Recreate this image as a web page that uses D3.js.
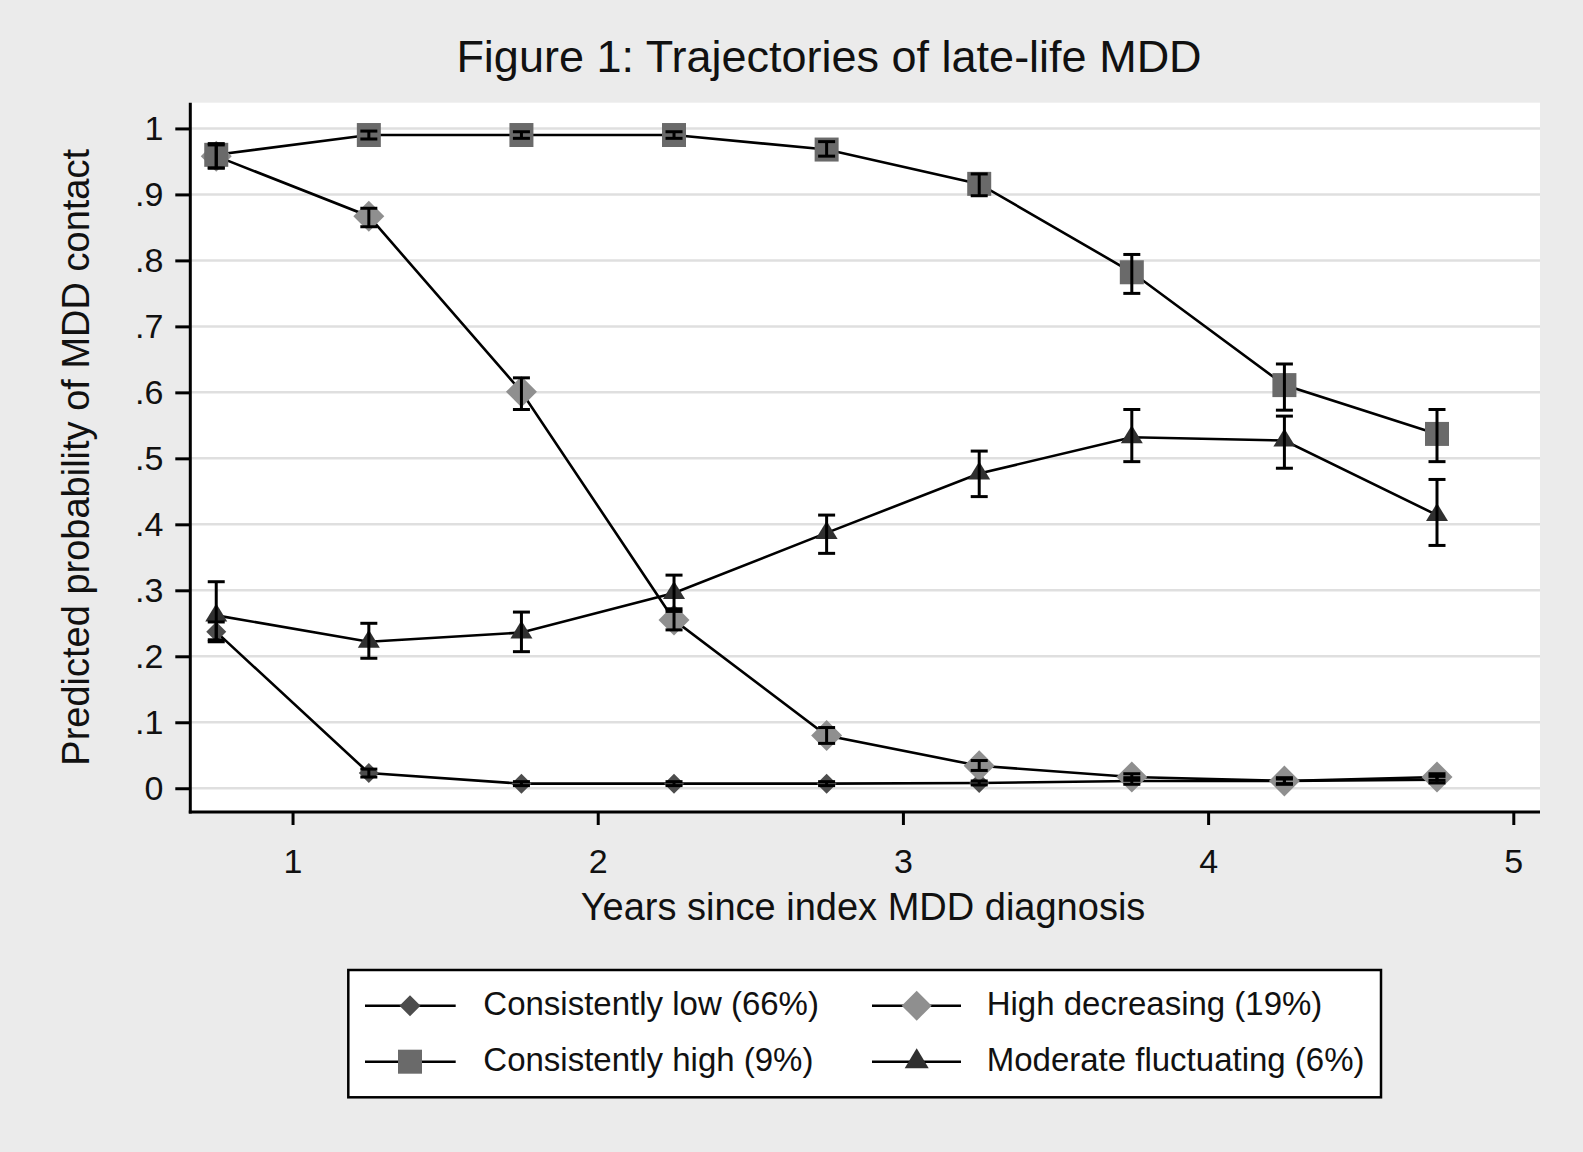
<!DOCTYPE html>
<html>
<head>
<meta charset="utf-8">
<script src="https://cdnjs.cloudflare.com/ajax/libs/d3/7.8.5/d3.min.js"></script>
<style>
  html, body { margin: 0; padding: 0; background: #ebebeb; }
  svg { display: block; }
  text { font-family: "Liberation Sans", Arial, sans-serif; fill: #111; }
</style>
</head>
<body>
<svg id="chart" width="1583" height="1152"></svg>
<script>
// ---------- DATA ----------
const years = [0.75, 1.25, 1.75, 2.25, 2.75, 3.25, 3.75, 4.25, 4.75];
const xTicks = [1, 2, 3, 4, 5];
const yTicks = [0, 0.1, 0.2, 0.3, 0.4, 0.5, 0.6, 0.7, 0.8, 0.9, 1];
const yTickLabels = ["0", ".1", ".2", ".3", ".4", ".5", ".6", ".7", ".8", ".9", "1"];

const seriesNames = ["Consistently low (66%)", "High decreasing (19%)", "Consistently high (9%)", "Moderate fluctuating (6%)"];

const consistentlyLow   = [0.237, 0.023, 0.007, 0.007, 0.007, 0.008, 0.011, 0.011, 0.013];
const consistentlyLowLo = [0.222, 0.017, 0.004, 0.004, 0.004, 0.005, 0.006, 0.006, 0.008];
const consistentlyLowHi = [0.252, 0.029, 0.010, 0.010, 0.010, 0.011, 0.016, 0.016, 0.018];

const highDecreasing   = [0.958, 0.867, 0.601, 0.255, 0.080, 0.034, 0.017, 0.011, 0.017];
const highDecreasingLo = [0.940, 0.851, 0.574, 0.240, 0.068, 0.027, 0.012, 0.007, 0.012];
const highDecreasingHi = [0.975, 0.879, 0.622, 0.272, 0.092, 0.042, 0.022, 0.014, 0.022];

const consistentlyHigh   = [0.960, 0.990, 0.990, 0.990, 0.968, 0.916, 0.782, 0.611, 0.537];
const consistentlyHighLo = [0.940, 0.984, 0.985, 0.985, 0.958, 0.898, 0.750, 0.573, 0.495];
const consistentlyHighHi = [0.977, 0.996, 0.995, 0.995, 0.980, 0.931, 0.809, 0.643, 0.574];

const moderateFluct   = [0.262, 0.222, 0.236, 0.296, 0.387, 0.477, 0.532, 0.527, 0.414];
const moderateFluctLo = [0.225, 0.197, 0.207, 0.268, 0.356, 0.442, 0.495, 0.485, 0.368];
const moderateFluctHi = [0.313, 0.250, 0.267, 0.323, 0.414, 0.511, 0.574, 0.564, 0.468];

// ---------- LAYOUT ----------
const W = 1583, H = 1152;
const plot = { left: 190.3, right: 1540, top: 102.7, bottom: 812 };
const svg = d3.select("#chart");

svg.append("rect").attr("width", W).attr("height", H).attr("fill", "#ebebeb");

const x = d3.scaleLinear().domain([0.665, 5.0875]).range([plot.left, plot.right]);
const y = d3.scaleLinear().domain([-0.036, 1.039]).range([plot.bottom, plot.top]);

// plot region
svg.append("rect")
  .attr("x", plot.left).attr("y", plot.top)
  .attr("width", plot.right - plot.left).attr("height", plot.bottom - plot.top)
  .attr("fill", "#ffffff");

// gridlines
svg.append("g").selectAll("line").data(yTicks).join("line")
  .attr("x1", plot.left).attr("x2", plot.right)
  .attr("y1", d => y(d)).attr("y2", d => y(d))
  .attr("stroke", "#dfdfdf").attr("stroke-width", 2.5);

// axes
const yAxis = d3.axisLeft(y).tickValues(yTicks).tickSize(15).tickPadding(12)
  .tickFormat((d, i) => yTickLabels[i]);
const gy = svg.append("g").attr("transform", `translate(${plot.left},0)`).call(yAxis);
gy.select(".domain").remove();
gy.selectAll(".tick line").attr("stroke", "#000").attr("stroke-width", 3);
gy.selectAll(".tick text").attr("font-size", 34).attr("fill", "#111")
  .attr("font-family", '"Liberation Sans", Arial, sans-serif');

const xAxis = d3.axisBottom(x).tickValues(xTicks).tickSize(13).tickPadding(24).tickFormat(d3.format("d"));
const gx = svg.append("g").attr("transform", `translate(0,${plot.bottom})`).call(xAxis);
gx.select(".domain").remove();
gx.selectAll(".tick line").attr("stroke", "#000").attr("stroke-width", 3);
gx.selectAll(".tick text").attr("font-size", 34).attr("fill", "#111")
  .attr("font-family", '"Liberation Sans", Arial, sans-serif');

svg.append("line").attr("x1", plot.left).attr("x2", plot.left)
  .attr("y1", plot.top).attr("y2", plot.bottom + 1.5)
  .attr("stroke", "#000").attr("stroke-width", 3);
svg.append("line").attr("x1", plot.left - 1.5).attr("x2", plot.right)
  .attr("y1", plot.bottom).attr("y2", plot.bottom)
  .attr("stroke", "#000").attr("stroke-width", 3);

// titles
svg.append("text").attr("x", 829).attr("y", 72).attr("text-anchor", "middle")
  .attr("font-size", 45).text("Figure 1: Trajectories of late-life MDD");
svg.append("text").attr("x", 863).attr("y", 920).attr("text-anchor", "middle")
  .attr("font-size", 38).text("Years since index MDD diagnosis");
svg.append("text").attr("transform", `translate(89,${(plot.top + plot.bottom) / 2}) rotate(-90)`)
  .attr("text-anchor", "middle").attr("font-size", 38).text("Predicted probability of MDD contact");

// ---------- MARKERS ----------
function diamondPath(r) { return `M0,${-r}L${r},0L0,${r}L${-r},0Z`; }
function squarePath(s) { const h = s / 2; return `M${-h},${-h}H${h}V${h}H${-h}Z`; }
function trianglePath(w, h) { return `M0,${-h * 2 / 3}L${w / 2},${h / 3}L${-w / 2},${h / 3}Z`; }

const series = [
  { name: seriesNames[0], v: consistentlyLow, lo: consistentlyLowLo, hi: consistentlyLowHi, color: "#4d4d4d", path: diamondPath(10), legendPath: diamondPath(10.5) },
  { name: seriesNames[1], v: highDecreasing, lo: highDecreasingLo, hi: highDecreasingHi, color: "#8f8f8f", path: diamondPath(15.5), legendPath: diamondPath(15) },
  { name: seriesNames[2], v: consistentlyHigh, lo: consistentlyHighLo, hi: consistentlyHighHi, color: "#6a6a6a", path: squarePath(24), legendPath: squarePath(24) },
  { name: seriesNames[3], v: moderateFluct, lo: moderateFluctLo, hi: moderateFluctHi, color: "#303030", path: trianglePath(22, 18), legendPath: trianglePath(24, 20) }
];

const line = d3.line().x((d, i) => x(years[i])).y(d => y(d));

const gLines = svg.append("g");
series.forEach(s => {
  gLines.append("path").attr("d", line(s.v)).attr("fill", "none")
    .attr("stroke", "#000").attr("stroke-width", 2.6);
});

const gMarks = svg.append("g");
series.forEach(s => {
  gMarks.selectAll(null).data(s.v).join("path")
    .attr("d", s.path)
    .attr("transform", (d, i) => `translate(${x(years[i])},${y(d)})`)
    .attr("fill", s.color);
});

const gErr = svg.append("g").attr("stroke", "#000").attr("stroke-width", 3);
const cap = 8.5;
series.forEach(s => {
  years.forEach((yr, i) => {
    const cx = x(yr), y1 = y(s.lo[i]), y2 = y(s.hi[i]);
    gErr.append("line").attr("x1", cx).attr("x2", cx).attr("y1", y1).attr("y2", y2);
    gErr.append("line").attr("x1", cx - cap).attr("x2", cx + cap).attr("y1", y1).attr("y2", y1);
    gErr.append("line").attr("x1", cx - cap).attr("x2", cx + cap).attr("y1", y2).attr("y2", y2);
  });
});

// ---------- LEGEND ----------
const lg = svg.append("g");
lg.append("rect").attr("x", 348.3).attr("y", 970).attr("width", 1381 - 348.3).attr("height", 1097.3 - 970)
  .attr("fill", "#fff").attr("stroke", "#000").attr("stroke-width", 2.5);

const legendPos = [
  { lx1: 365, lx2: 455.7, mx: 410, tx: 483.3, ry: 1005.7 },
  { lx1: 872, lx2: 961, mx: 916.7, tx: 986.7, ry: 1005.7 },
  { lx1: 365, lx2: 455.7, mx: 410, tx: 483.3, ry: 1061.7 },
  { lx1: 872, lx2: 961, mx: 916.7, tx: 986.7, ry: 1061.7 }
];
series.forEach((s, i) => {
  const p = legendPos[i];
  lg.append("line").attr("x1", p.lx1).attr("x2", p.lx2).attr("y1", p.ry).attr("y2", p.ry)
    .attr("stroke", "#000").attr("stroke-width", 2.5);
  lg.append("path").attr("d", s.legendPath).attr("transform", `translate(${p.mx},${p.ry})`).attr("fill", s.color);
  lg.append("text").attr("x", p.tx).attr("y", p.ry + 9).attr("font-size", 33).text(s.name);
});
</script>
</body>
</html>
